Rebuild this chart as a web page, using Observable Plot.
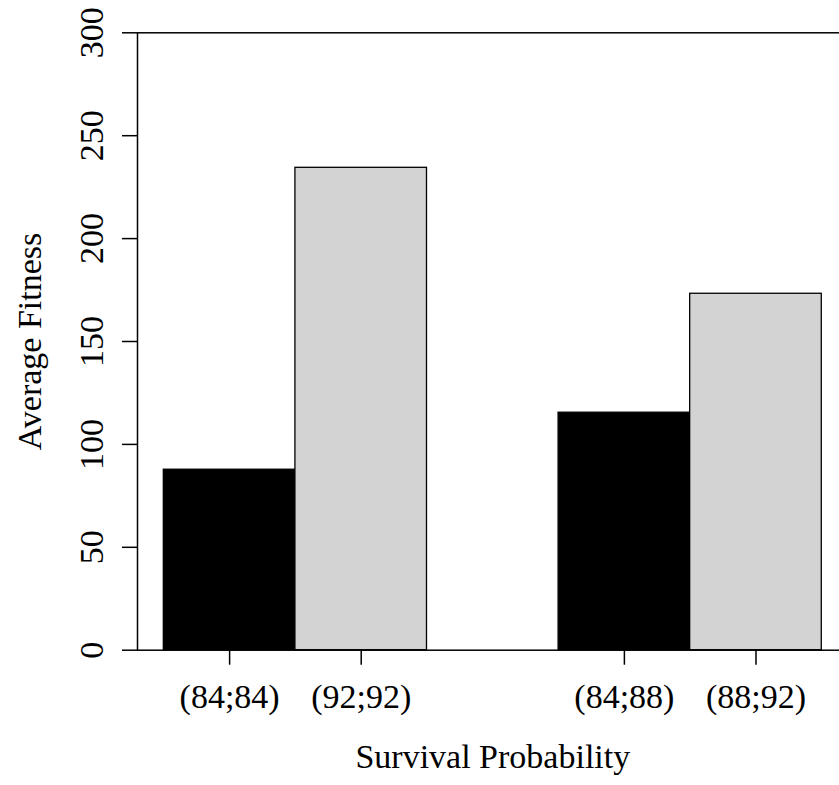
<!DOCTYPE html>
<html><head><meta charset="utf-8">
<script src="https://cdn.jsdelivr.net/npm/d3@7"></script>
<script src="https://cdn.jsdelivr.net/npm/@observablehq/plot@0.6"></script>
<style>body{margin:0;background:#fff}</style>
</head><body><div id="chart"></div>
<script>
// Data
const labels = ["(84;84)", "(92;92)", "(84;88)", "(88;92)"];
const values = [87.7, 234.4, 115.4, 173.2];
const series = ["low", "high", "low", "high"];
const spaceBefore = [1, 0, 1, 0]; // R barplot spacing (in bar widths)
const seriesDomain = ["low", "high"];
const seriesColors = ["#000000", "#D3D3D3"];
const yTicks = [0, 50, 100, 150, 200, 250, 300];
const xTitle = "Survival Probability";
const yTitle = "Average Fitness";

let pos = 0;
const data = labels.map((label, i) => {
  const x1 = pos + spaceBefore[i];
  pos = x1 + 1;
  return {label, value: values[i], series: series[i], x1, x2: x1 + 1, xc: x1 + 0.5};
});
const lo = d3.min(data, d => d.x1), hi = d3.max(data, d => d.x2);
const ext = (hi - lo) * 0.04;
const labelAt = new Map(data.map(d => [d.xc, d.label]));

const chart = Plot.plot({
  width: 839,
  height: 785,
  marginLeft: 137,
  marginRight: -8.6,
  marginTop: 32.3,
  marginBottom: 135.3,
  x: {type: "linear", domain: [lo - ext, hi + ext], axis: null},
  y: {domain: [0, 300], axis: null},
  color: {domain: seriesDomain, range: seriesColors},
  style: {fontFamily: "'Liberation Serif', 'DejaVu Serif', serif", fontSize: "34px", background: "#fff", overflow: "hidden", color: "#000"},
  marks: [
    Plot.rect(data, {x1: "x1", x2: "x2", y1: d => 0, y2: "value", fill: "series", stroke: "#000", strokeWidth: 1.3}),
    Plot.frame({stroke: "#000", strokeWidth: 1.5}),
    Plot.axisY(yTicks, {anchor: "left", tickSize: 15, tickPadding: 20, tickRotate: -90, strokeWidth: 1.5, label: null, fill: "#000"}),
    Plot.axisX(data.map(d => d.xc), {anchor: "bottom", tickSize: 15, tickPadding: 19, tickFormat: v => labelAt.get(v), strokeWidth: 1.5, label: null, fill: "#000"}),
    Plot.text([xTitle], {text: d => d, frameAnchor: "bottom", lineAnchor: "bottom", dy: 118, fill: "#000"}),
    Plot.text([yTitle], {text: d => d, frameAnchor: "left", rotate: -90, textAnchor: "middle", lineAnchor: "bottom", dx: -97, fill: "#000"})
  ]
});
document.getElementById("chart").appendChild(chart);
</script>
</body></html>
